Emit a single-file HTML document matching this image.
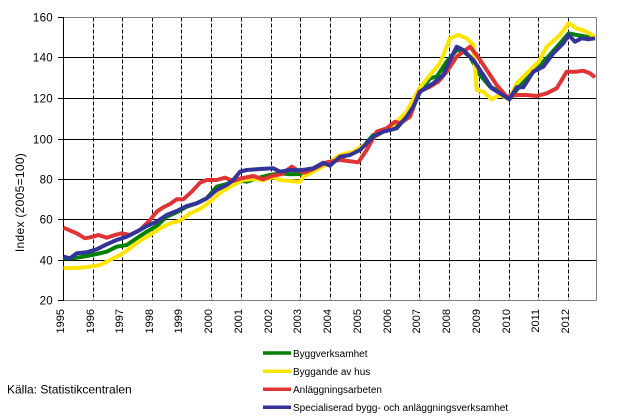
<!DOCTYPE html>
<html>
<head>
<meta charset="utf-8">
<style>
  html,body{margin:0;padding:0;background:#fff;}
  svg{display:block;}
  text{font-family:"Liberation Sans",Arial,sans-serif;fill:#000;}
</style>
</head>
<body>
<svg width="617" height="417" viewBox="0 0 617 417" xmlns="http://www.w3.org/2000/svg">
  <rect x="0" y="0" width="617" height="417" fill="#fff"/>

  <!-- horizontal gridlines -->
  <g stroke="#000" stroke-width="1">
    <line x1="63.5" y1="57.5" x2="596.5" y2="57.5"/>
    <line x1="63.5" y1="98.5" x2="596.5" y2="98.5"/>
    <line x1="63.5" y1="139.5" x2="596.5" y2="139.5"/>
    <line x1="63.5" y1="179.5" x2="596.5" y2="179.5"/>
    <line x1="63.5" y1="219.5" x2="596.5" y2="219.5"/>
    <line x1="63.5" y1="260.5" x2="596.5" y2="260.5"/>
  </g>

  <!-- vertical dashed gridlines -->
  <g stroke="#000" stroke-width="1" stroke-dasharray="4,2">
    <line x1="93.5" y1="17.5" x2="93.5" y2="300.5"/>
    <line x1="122.5" y1="17.5" x2="122.5" y2="300.5"/>
    <line x1="152.5" y1="17.5" x2="152.5" y2="300.5"/>
    <line x1="181.5" y1="17.5" x2="181.5" y2="300.5"/>
    <line x1="211.5" y1="17.5" x2="211.5" y2="300.5"/>
    <line x1="241.5" y1="17.5" x2="241.5" y2="300.5"/>
    <line x1="271.5" y1="17.5" x2="271.5" y2="300.5"/>
    <line x1="300.5" y1="17.5" x2="300.5" y2="300.5"/>
    <line x1="330.5" y1="17.5" x2="330.5" y2="300.5"/>
    <line x1="360.5" y1="17.5" x2="360.5" y2="300.5"/>
    <line x1="390.5" y1="17.5" x2="390.5" y2="300.5"/>
    <line x1="419.5" y1="17.5" x2="419.5" y2="300.5"/>
    <line x1="449.5" y1="17.5" x2="449.5" y2="300.5"/>
    <line x1="479.5" y1="17.5" x2="479.5" y2="300.5"/>
    <line x1="509.5" y1="17.5" x2="509.5" y2="300.5"/>
    <line x1="538.5" y1="17.5" x2="538.5" y2="300.5"/>
    <line x1="568.5" y1="17.5" x2="568.5" y2="300.5"/>
  </g>

  <!-- frame -->
  <g stroke="#808080" stroke-width="1" fill="none">
    <line x1="63.5" y1="17.5" x2="596.5" y2="17.5"/>
    <line x1="596.5" y1="17.5" x2="596.5" y2="300.5"/>
    <line x1="63.5" y1="300.5" x2="596.5" y2="300.5"/>
  </g>
  <line x1="63.5" y1="17.5" x2="63.5" y2="300.5" stroke="#000" stroke-width="1"/>

  <!-- y ticks -->
  <g stroke="#000" stroke-width="1">
    <line x1="58" y1="17.5" x2="63.5" y2="17.5"/>
    <line x1="58" y1="57.5" x2="63.5" y2="57.5"/>
    <line x1="58" y1="98.5" x2="63.5" y2="98.5"/>
    <line x1="58" y1="139.5" x2="63.5" y2="139.5"/>
    <line x1="58" y1="179.5" x2="63.5" y2="179.5"/>
    <line x1="58" y1="219.5" x2="63.5" y2="219.5"/>
    <line x1="58" y1="260.5" x2="63.5" y2="260.5"/>
    <line x1="58" y1="300.5" x2="63.5" y2="300.5"/>
  </g>

  <!-- y labels -->
  <g font-size="11.5" text-anchor="end" letter-spacing="0.3">
    <text x="53" y="21.5">160</text>
    <text x="53" y="61.5">140</text>
    <text x="53" y="102.5">120</text>
    <text x="53" y="143.5">100</text>
    <text x="53" y="183.5">80</text>
    <text x="53" y="223.5">60</text>
    <text x="53" y="264.5">40</text>
    <text x="53" y="304.5">20</text>
  </g>

  <!-- y title -->
  <text transform="translate(24,202.5) rotate(-90)" font-size="12" text-anchor="middle" letter-spacing="0.3">Index (2005=100)</text>

  <!-- x labels -->
  <g font-size="11" text-anchor="end">
    <text transform="translate(64,309) rotate(-90)">1995</text>
    <text transform="translate(94,309) rotate(-90)">1996</text>
    <text transform="translate(123,309) rotate(-90)">1997</text>
    <text transform="translate(153,309) rotate(-90)">1998</text>
    <text transform="translate(182,309) rotate(-90)">1999</text>
    <text transform="translate(212,309) rotate(-90)">2000</text>
    <text transform="translate(242,309) rotate(-90)">2001</text>
    <text transform="translate(272,309) rotate(-90)">2002</text>
    <text transform="translate(301,309) rotate(-90)">2003</text>
    <text transform="translate(331,309) rotate(-90)">2004</text>
    <text transform="translate(361,309) rotate(-90)">2005</text>
    <text transform="translate(391,309) rotate(-90)">2006</text>
    <text transform="translate(420,309) rotate(-90)">2007</text>
    <text transform="translate(450,309) rotate(-90)">2008</text>
    <text transform="translate(480,309) rotate(-90)">2009</text>
    <text transform="translate(510,309) rotate(-90)">2010</text>
    <text transform="translate(539,309) rotate(-90)">2011</text>
    <text transform="translate(569,309) rotate(-90)">2012</text>
  </g>

  <!-- series -->
  <g fill="none" stroke-width="4" stroke-linejoin="round" stroke-linecap="butt">
    <!-- green: Byggverksamhet -->
    <polyline stroke="#008000" points="63.5,258.3 73.3,258.3 86.7,256 96.7,254 106.7,251.7 116.7,246.7 126.7,245 136.7,238.3 146.7,231.7 156.7,226 166.7,216.7 176.7,212.3 186.7,206.7 196.7,203.3 206.7,198.3 216.7,186.7 226.7,184 236.7,180 246.7,181.7 256.7,178.3 270,175 280,173.3 290,174.3 300,174 313.3,168.3 330,163.3 343.3,156.7 360,150 373.3,135 390,128.3 400,123.3 410,113.3 419.3,93.3 430,78.3 436.7,76.7 446.7,61.7 456.7,50 463.3,51.7 470,56.7 480,75 490,86.7 500,91.7 509.3,99.3 520,86 533.3,71.7 546.7,58.3 560,43.3 568.7,33.3 576.7,35 586.7,36.7 595,38.3"/>
    <!-- yellow: Byggande av hus -->
    <polyline stroke="#ffe400" points="63.5,268.3 80,267.7 90,266.7 100,265 110,260 120,255 130,248.3 140,240.7 150,235 160,228.3 170,223.3 180,220.7 190,213.3 200,209 210,201.7 220,192.7 233.3,185 243.3,180 253.3,179 263.3,180 273.3,177.3 280,180 290,181 300,181.7 303.3,176.7 313.3,171.7 326.7,164 340,155 353.3,151.7 366.7,143.3 380,133.3 393.3,125 406.7,111.7 419.3,88.3 430,75 440,63.3 450,38.3 458.3,35 466.7,38.3 473.3,45 476.7,90 483.3,91.7 491.7,99.3 500,95 509.3,99.3 516.7,83.3 526.7,73.3 538.7,61.7 546.7,46.7 560,35 568.7,23.3 576.7,28.3 586.7,31.7 595,37.3"/>
    <!-- red: Anläggningsarbeten -->
    <polyline stroke="#e03434" points="63.5,227.7 76.7,233.3 85,238.3 93.3,236.7 98.3,235 106.7,237.7 115,235 121.7,233.3 130,235 140,230 150,220 156.7,211.7 163.3,207.3 170,204 176.7,199.3 183.3,199.3 191.7,191.7 200,182.7 206.7,180 216.7,180 225,177.7 233.3,181 241.3,178.3 253.3,176 263.3,179.3 271.7,176 281.7,174 291.7,166.7 298.3,170.7 305,172.5 313.3,169 326.7,162.3 340,160 358.3,162.3 366.7,150 376.7,131.7 386.7,128.3 395,121.7 400,123.3 410,116.7 419.3,91.7 430,86.7 438.3,81.7 446.7,71.7 456.7,56.7 463.3,51.7 470,46.7 476.7,55 486.7,70 496.7,85 506.7,96.7 516.7,95 526.7,95 536.7,96 546.7,93.3 556.7,88.3 566.7,71.7 576.7,71.7 583.3,70.7 590,73.3 595,77.3"/>
    <!-- blue: Specialiserad -->
    <polyline stroke="#333399" points="63.5,256.7 70,258.3 76.7,253.3 86.7,252.3 96.7,249.3 106.7,244.3 116.7,240 126.7,236.7 136.7,231.7 146.7,226 156.7,221.7 166.7,215 176.7,211 186.7,206 196.7,203.3 206.7,198.3 216.7,190 226.7,185 233.3,180 240,171.7 246.7,170 260,169 273.3,168.3 280,171.7 290,170 300,170.3 313.3,168.3 323.3,162.7 330,165.7 340,156.7 350,155 360,150 373.3,136.7 383.3,131.7 396.7,128.3 406.7,116.7 413.3,106.7 420,91.7 433.3,83.3 443.3,75 450,60 456.7,46.7 463.3,50 473.3,60 483.3,75 491.7,88.3 500,93.3 509.3,99.3 516.7,87.3 523.3,87.3 533.3,71.7 543.3,66.7 553.3,53.3 563.3,43.3 568.7,35 575,41.7 581.7,38.3 588.3,39.3 595,38.3"/>
  </g>

  <!-- legend -->
  <g stroke-width="3.5">
    <line x1="263" y1="353" x2="291" y2="353" stroke="#008000"/>
    <line x1="263" y1="371.3" x2="291" y2="371.3" stroke="#ffe400"/>
    <line x1="263" y1="389.3" x2="291" y2="389.3" stroke="#e03434"/>
    <line x1="263" y1="407.3" x2="291" y2="407.3" stroke="#333399"/>
  </g>
  <g font-size="10">
    <text x="293" y="356.8">Byggverksamhet</text>
    <text x="293" y="375">Byggande av hus</text>
    <text x="293" y="393">Anläggningsarbeten</text>
    <text x="293" y="411">Specialiserad bygg- och anläggningsverksamhet</text>
  </g>

  <!-- source -->
  <text x="7" y="393.5" font-size="12">Källa: Statistikcentralen</text>
</svg>
</body>
</html>
